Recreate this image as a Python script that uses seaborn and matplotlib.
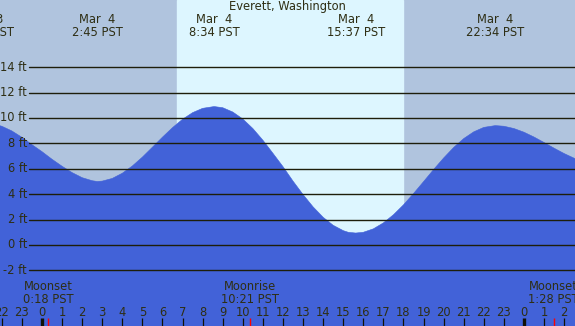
import numpy as np
import pandas as pd
import seaborn as sns
import matplotlib
matplotlib.use("Agg")
import matplotlib.pyplot as plt

tide_hours = [-3, -2.84, -2.5, -2, -1.5, -1, -0.5, 0, 0.5, 1, 1.5, 2, 2.5, 2.75,
              3, 3.5, 4, 4.5, 5, 5.5, 6, 6.5, 7, 7.5, 8, 8.57,
              9, 9.5, 10, 10.5, 11, 11.5, 12, 12.5, 13, 13.5, 14, 14.5, 15, 15.25, 15.62,
              16, 16.5, 17, 17.5, 18, 18.5, 19, 19.5, 20, 20.5, 21, 21.5, 22, 22.57,
              23, 23.5, 24, 24.5, 25, 25.5, 26, 26.5, 27]
tide_ft = [9.59, 9.6, 9.56, 9.35, 8.98, 8.48, 7.9, 7.35, 6.75, 6.2, 5.7, 5.3, 5.06, 5.0,
           5.03, 5.24, 5.65, 6.22, 6.92, 7.70, 8.49, 9.24, 9.90, 10.42, 10.76, 10.9,
           10.81, 10.47, 9.92, 9.17, 8.25, 7.22, 6.17, 5.03, 3.97, 3.00, 2.18, 1.55, 1.13,
           1.0, 0.94,
           1.00, 1.27, 1.74, 2.38, 3.16, 4.05, 4.99, 5.94, 6.85, 7.68, 8.38, 8.91, 9.26, 9.4,
           9.35, 9.17, 8.88, 8.50, 8.07, 7.62, 7.20, 6.83, 6.57]

# high / low tide labels at top
extreme_hours = [-2.84, 2.75, 8.57, 15.62, 22.57, 27.8]
extreme_labels = ["Mar  3\n21:10 PST", "Mar  4\n2:45 PST", "Mar  4\n8:34 PST",
                  "Mar  4\n15:37 PST", "Mar  4\n22:34 PST", "Mar  5\n3:48 PST"]

# moon events
moon_hours = [0.3, 10.35, 25.47]
moon_labels = ["Moonset\n0:18 PST", "Moonrise\n10:21 PST", "Moonset\n1:28 PST"]

sunrise = 6.72
sunset = 17.98

ft_levels = [14, 12, 10, 8, 6, 4, 2, 0, -2]
hour_ticks = list(range(-2, 27))

night = "#b0c4de"
day = "#ddf6ff"
water = "#4262d8"
ink = "#2e2e14"

sns.set_style("white")
plt.rcParams['font.family'] = ['DejaVu Sans']

fig = plt.figure(figsize=(5.75, 3.26), dpi=100)
ax = fig.add_axes([0, 0, 1, 1])
xmin, xmax = -2.09, 26.54
ymin, ymax = -6.38, 19.29
ax.set_xlim(xmin, xmax)
ax.set_ylim(ymin, ymax)
ax.set_facecolor(night)
ax.axvspan(sunrise, sunset, color=day, zorder=0)

df = pd.DataFrame({"hour": tide_hours, "ft": tide_ft})
ax.fill_between(df["hour"], df["ft"], ymin, color=water, lw=0, zorder=2)
sns.lineplot(data=df, x="hour", y="ft", color=water, lw=0.4, ax=ax, zorder=2)

for lv in ft_levels:
    ax.axhline(lv, xmin=0.051, xmax=1, color="#1e1e0a", lw=1.0, zorder=3)
    ax.text(0.047, lv, f"{lv} ft", transform=ax.get_yaxis_transform(),
            ha="right", va="center", fontsize=8.3, color=ink, zorder=4)

ax.text(0.5, 18.74, "Everett, Washington", transform=ax.get_yaxis_transform(),
        ha="center", va="center", fontsize=8.3, color=ink)
for h, lab in zip(extreme_hours, extreme_labels):
    ax.text(h, 17.25, lab, ha="center", va="center", fontsize=8.3, color=ink,
            linespacing=1.0)

for h, lab in zip(moon_hours, moon_labels):
    ax.text(h, -3.8, lab, ha="center", va="center", fontsize=8.3, color=ink,
            linespacing=1.0, zorder=4)
    ax.vlines(h, ymin, -5.75, color="red", lw=1.0, zorder=4)

for h in hour_ticks:
    ax.text(h, -5.3, str(h % 24), ha="center", va="center", fontsize=8.3, color=ink,
            zorder=4)
    lw = 2.4 if h % 24 == 0 else 0.9
    ax.vlines(h, ymin, -5.75, color="#111105", lw=lw, zorder=4)

ax.set_xlabel("")
ax.set_ylabel("")
ax.set_xticks([])
ax.set_yticks([])
for s in ax.spines.values():
    s.set_visible(False)

fig.savefig("out.png", dpi=100)
